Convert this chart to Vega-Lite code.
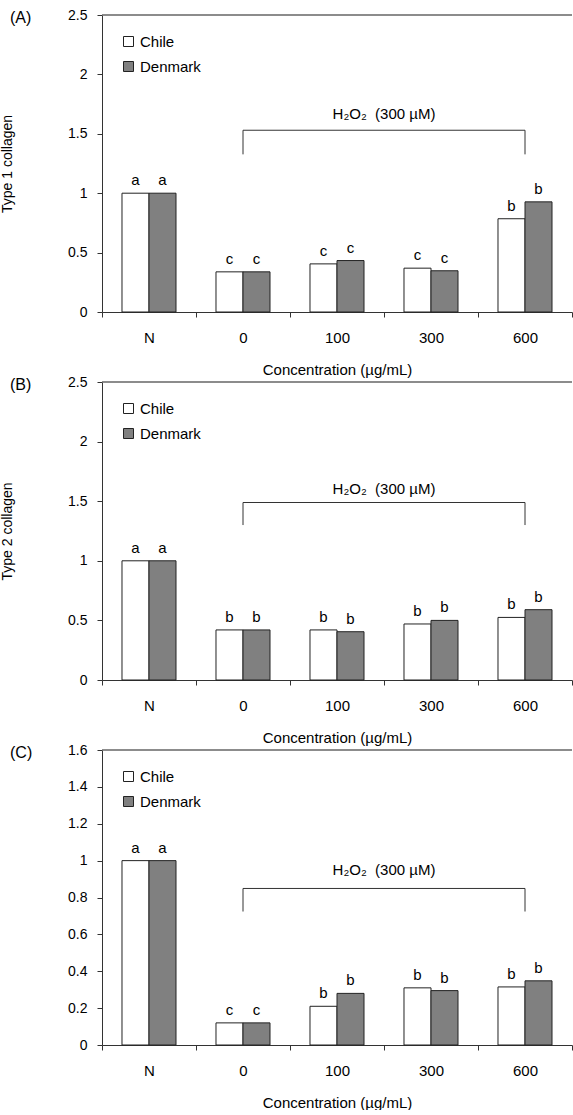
{
  "$schema": "https://vega.github.io/schema/vega-lite/v6.json",
  "padding": {"left": 0, "top": 8, "right": 0, "bottom": 0},
  "spacing": -2,
  "config": {
    "font": "Liberation Sans",
    "view": {"stroke": null},
    "title": {"fontSize": 16, "fontWeight": "normal", "anchor": "start", "frame": "group", "baseline": "middle", "offset": 0, "dx": -92, "dy": 22, "color": "#000"},
    "axis": {"domainColor": "#333", "tickColor": "#333", "labelColor": "#000", "titleColor": "#000", "tickSize": 5, "grid": false, "titleFontWeight": "normal", "labelFont": "Liberation Sans", "titleFont": "Liberation Sans", "labelOverlap": false},
    "axisX": {"labelFontSize": 15, "labelPadding": 13, "titleFontSize": 15, "titlePadding": 17, "labelAngle": 0, "tickBand": "extent"},
    "axisY": {"labelFontSize": 14, "labelPadding": 10, "titleFontSize": 14, "titlePadding": 53, "format": "~g", "tickCount": 20},
    "legend": {"orient": "top-left", "offset": 19, "symbolType": "square", "symbolSize": 100, "symbolStrokeColor": "#222", "symbolStrokeWidth": 1, "labelFontSize": 15, "labelColor": "#000", "rowPadding": 9, "labelOffset": 4, "padding": 0, "symbolOpacity": 1}
  },
  "resolve": {"scale": {"x": "independent", "y": "independent", "fill": "independent"}, "legend": {"fill": "independent"}},
  "datasets": {
    "A": [
      {"conc": "N", "country": "Chile", "value": 1.0, "letter": "a"},
      {"conc": "N", "country": "Denmark", "value": 1.0, "letter": "a"},
      {"conc": "0", "country": "Chile", "value": 0.338, "letter": "c"},
      {"conc": "0", "country": "Denmark", "value": 0.338, "letter": "c"},
      {"conc": "100", "country": "Chile", "value": 0.405, "letter": "c"},
      {"conc": "100", "country": "Denmark", "value": 0.433, "letter": "c"},
      {"conc": "300", "country": "Chile", "value": 0.369, "letter": "c"},
      {"conc": "300", "country": "Denmark", "value": 0.347, "letter": "c"},
      {"conc": "600", "country": "Chile", "value": 0.785, "letter": "b"},
      {"conc": "600", "country": "Denmark", "value": 0.927, "letter": "b"}
    ],
    "B": [
      {"conc": "N", "country": "Chile", "value": 1.0, "letter": "a"},
      {"conc": "N", "country": "Denmark", "value": 1.0, "letter": "a"},
      {"conc": "0", "country": "Chile", "value": 0.42, "letter": "b"},
      {"conc": "0", "country": "Denmark", "value": 0.42, "letter": "b"},
      {"conc": "100", "country": "Chile", "value": 0.42, "letter": "b"},
      {"conc": "100", "country": "Denmark", "value": 0.405, "letter": "b"},
      {"conc": "300", "country": "Chile", "value": 0.47, "letter": "b"},
      {"conc": "300", "country": "Denmark", "value": 0.50, "letter": "b"},
      {"conc": "600", "country": "Chile", "value": 0.525, "letter": "b"},
      {"conc": "600", "country": "Denmark", "value": 0.59, "letter": "b"}
    ],
    "C": [
      {"conc": "N", "country": "Chile", "value": 1.0, "letter": "a"},
      {"conc": "N", "country": "Denmark", "value": 1.0, "letter": "a"},
      {"conc": "0", "country": "Chile", "value": 0.12, "letter": "c"},
      {"conc": "0", "country": "Denmark", "value": 0.12, "letter": "c"},
      {"conc": "100", "country": "Chile", "value": 0.21, "letter": "b"},
      {"conc": "100", "country": "Denmark", "value": 0.28, "letter": "b"},
      {"conc": "300", "country": "Chile", "value": 0.31, "letter": "b"},
      {"conc": "300", "country": "Denmark", "value": 0.295, "letter": "b"},
      {"conc": "600", "country": "Chile", "value": 0.315, "letter": "b"},
      {"conc": "600", "country": "Denmark", "value": 0.348, "letter": "b"}
    ]
  },
  "vconcat": [
    {
      "width": 470, "height": 297,
      "title": {"text": "(A)"},
      "layer": [
        {
          "data": {"name": "A"},
          "mark": {"type": "bar", "stroke": "#222", "strokeWidth": 1},
          "encoding": {
            "x": {"field": "conc", "type": "nominal", "scale": {"domain": ["N", "0", "100", "300", "600"], "paddingInner": 0, "paddingOuter": 0}, "axis": {"title": "Concentration (µg/mL)"}},
            "xOffset": {"field": "country", "type": "nominal", "scale": {"domain": ["Chile", "Denmark"], "paddingInner": 0, "paddingOuter": 0.74}},
            "y": {"field": "value", "type": "quantitative", "scale": {"domain": [0, 2.5], "nice": false}, "axis": {"values": [0, 0.5, 1, 1.5, 2, 2.5], "title": "Type 1 collagen", "labelOverlap": false, "tickCount": 20}},
            "fill": {"field": "country", "type": "nominal", "scale": {"domain": ["Chile", "Denmark"], "range": ["#ffffff", "#808080"]}, "legend": {"title": null}}
          }
        },
        {
          "data": {"name": "A"},
          "mark": {"type": "text", "baseline": "alphabetic", "dy": -8, "fontSize": 15, "color": "#000"},
          "encoding": {
            "x": {"field": "conc", "type": "nominal"},
            "xOffset": {"field": "country", "type": "nominal"},
            "y": {"field": "value", "type": "quantitative"},
            "text": {"field": "letter"}
          }
        },
        {"data": {"values": [{}]}, "mark": {"type": "rule", "color": "#666", "strokeWidth": 1.5}, "encoding": {"y": {"datum": 2.5}}},
        {"data": {"values": [{}]}, "mark": {"type": "rule", "color": "#333"}, "encoding": {"x": {"datum": "0", "type": "nominal"}, "x2": {"datum": "600"}, "y": {"datum": 1.53}}},
        {"data": {"values": [{}]}, "mark": {"type": "rule", "color": "#333"}, "encoding": {"x": {"datum": "0", "type": "nominal"}, "y": {"datum": 1.53}, "y2": {"datum": 1.327}}},
        {"data": {"values": [{}]}, "mark": {"type": "rule", "color": "#333"}, "encoding": {"x": {"datum": "600", "type": "nominal"}, "y": {"datum": 1.53}, "y2": {"datum": 1.327}}},
        {"data": {"values": [{}]}, "mark": {"type": "text", "fontSize": 15, "baseline": "alphabetic", "color": "#000"}, "encoding": {"x": {"datum": "300", "type": "nominal", "bandPosition": 0}, "y": {"datum": 1.628}, "text": {"value": "H₂O₂\u00a0\u00a0(300 µM)"}}}
      ]
    },
    {
      "width": 470, "height": 298,
      "title": {"text": "(B)"},
      "layer": [
        {
          "data": {"name": "B"},
          "mark": {"type": "bar", "stroke": "#222", "strokeWidth": 1},
          "encoding": {
            "x": {"field": "conc", "type": "nominal", "scale": {"domain": ["N", "0", "100", "300", "600"], "paddingInner": 0, "paddingOuter": 0}, "axis": {"title": "Concentration (µg/mL)"}},
            "xOffset": {"field": "country", "type": "nominal", "scale": {"domain": ["Chile", "Denmark"], "paddingInner": 0, "paddingOuter": 0.74}},
            "y": {"field": "value", "type": "quantitative", "scale": {"domain": [0, 2.5], "nice": false}, "axis": {"values": [0, 0.5, 1, 1.5, 2, 2.5], "title": "Type 2 collagen", "labelOverlap": false, "tickCount": 20}},
            "fill": {"field": "country", "type": "nominal", "scale": {"domain": ["Chile", "Denmark"], "range": ["#ffffff", "#808080"]}, "legend": {"title": null}}
          }
        },
        {
          "data": {"name": "B"},
          "mark": {"type": "text", "baseline": "alphabetic", "dy": -8, "fontSize": 15, "color": "#000"},
          "encoding": {
            "x": {"field": "conc", "type": "nominal"},
            "xOffset": {"field": "country", "type": "nominal"},
            "y": {"field": "value", "type": "quantitative"},
            "text": {"field": "letter"}
          }
        },
        {"data": {"values": [{}]}, "mark": {"type": "rule", "color": "#666", "strokeWidth": 1.5}, "encoding": {"y": {"datum": 2.5}}},
        {"data": {"values": [{}]}, "mark": {"type": "rule", "color": "#333"}, "encoding": {"x": {"datum": "0", "type": "nominal"}, "x2": {"datum": "600"}, "y": {"datum": 1.489}}},
        {"data": {"values": [{}]}, "mark": {"type": "rule", "color": "#333"}, "encoding": {"x": {"datum": "0", "type": "nominal"}, "y": {"datum": 1.489}, "y2": {"datum": 1.3}}},
        {"data": {"values": [{}]}, "mark": {"type": "rule", "color": "#333"}, "encoding": {"x": {"datum": "600", "type": "nominal"}, "y": {"datum": 1.489}, "y2": {"datum": 1.3}}},
        {"data": {"values": [{}]}, "mark": {"type": "text", "fontSize": 15, "baseline": "alphabetic", "color": "#000"}, "encoding": {"x": {"datum": "300", "type": "nominal", "bandPosition": 0}, "y": {"datum": 1.558}, "text": {"value": "H₂O₂\u00a0\u00a0(300 µM)"}}}
      ]
    },
    {
      "width": 470, "height": 295,
      "title": {"text": "(C)"},
      "layer": [
        {
          "data": {"name": "C"},
          "mark": {"type": "bar", "stroke": "#222", "strokeWidth": 1},
          "encoding": {
            "x": {"field": "conc", "type": "nominal", "scale": {"domain": ["N", "0", "100", "300", "600"], "paddingInner": 0, "paddingOuter": 0}, "axis": {"title": "Concentration (µg/mL)"}},
            "xOffset": {"field": "country", "type": "nominal", "scale": {"domain": ["Chile", "Denmark"], "paddingInner": 0, "paddingOuter": 0.74}},
            "y": {"field": "value", "type": "quantitative", "scale": {"domain": [0, 1.6], "nice": false}, "axis": {"values": [0, 0.2, 0.4, 0.6, 0.8, 1, 1.2, 1.4, 1.6], "title": null, "labelOverlap": false, "tickCount": 20}},
            "fill": {"field": "country", "type": "nominal", "scale": {"domain": ["Chile", "Denmark"], "range": ["#ffffff", "#808080"]}, "legend": {"title": null}}
          }
        },
        {
          "data": {"name": "C"},
          "mark": {"type": "text", "baseline": "alphabetic", "dy": -8, "fontSize": 15, "color": "#000"},
          "encoding": {
            "x": {"field": "conc", "type": "nominal"},
            "xOffset": {"field": "country", "type": "nominal"},
            "y": {"field": "value", "type": "quantitative"},
            "text": {"field": "letter"}
          }
        },
        {"data": {"values": [{}]}, "mark": {"type": "rule", "color": "#666", "strokeWidth": 1.5}, "encoding": {"y": {"datum": 1.6}}},
        {"data": {"values": [{}]}, "mark": {"type": "rule", "color": "#333"}, "encoding": {"x": {"datum": "0", "type": "nominal"}, "x2": {"datum": "600"}, "y": {"datum": 0.849}}},
        {"data": {"values": [{}]}, "mark": {"type": "rule", "color": "#333"}, "encoding": {"x": {"datum": "0", "type": "nominal"}, "y": {"datum": 0.849}, "y2": {"datum": 0.724}}},
        {"data": {"values": [{}]}, "mark": {"type": "rule", "color": "#333"}, "encoding": {"x": {"datum": "600", "type": "nominal"}, "y": {"datum": 0.849}, "y2": {"datum": 0.724}}},
        {"data": {"values": [{}]}, "mark": {"type": "text", "fontSize": 15, "baseline": "alphabetic", "color": "#000"}, "encoding": {"x": {"datum": "300", "type": "nominal", "bandPosition": 0}, "y": {"datum": 0.922}, "text": {"value": "H₂O₂\u00a0\u00a0(300 µM)"}}}
      ]
    }
  ]
}
